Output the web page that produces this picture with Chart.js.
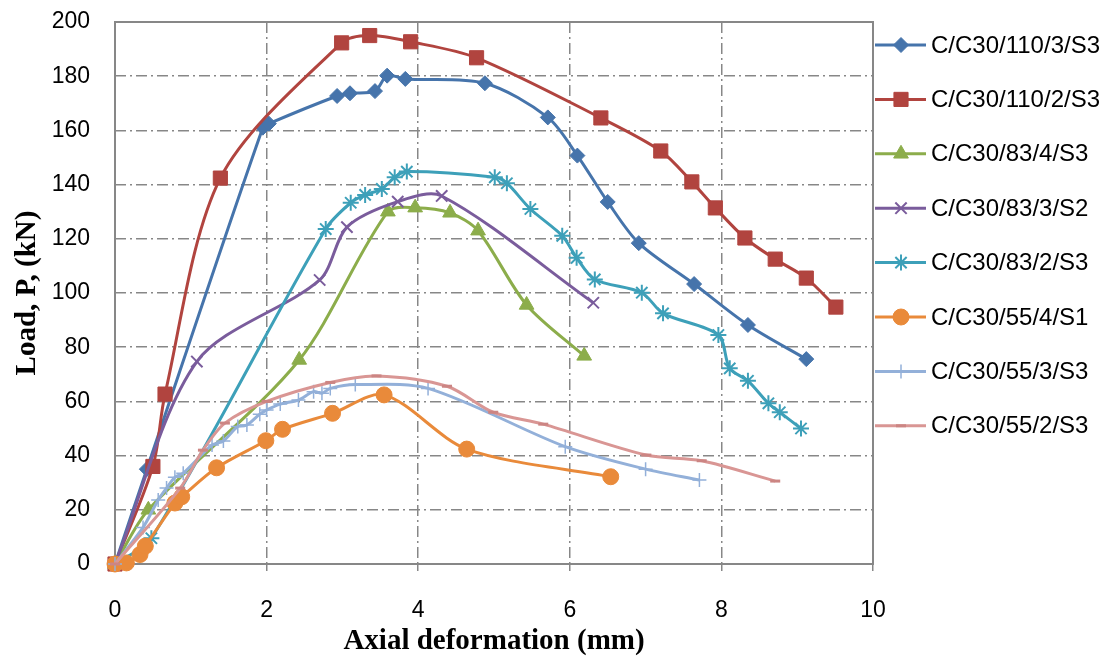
<!DOCTYPE html>
<html>
<head>
<meta charset="utf-8">
<script src="https://cdn.jsdelivr.net/npm/chart.js@4.4.0/dist/chart.umd.min.js"></script>
<style>
  html, body { margin: 0; padding: 0; background: #fff; }
  #grafico { display: block; }
</style>
</head>
<body>
<canvas id="grafico" width="1111" height="657"></canvas>
<script>
// Nomes das séries (legenda)
const nomes = [
  "C/C30/110/3/S3",
  "C/C30/110/2/S3",
  "C/C30/83/4/S3",
  "C/C30/83/3/S2",
  "C/C30/83/2/S3",
  "C/C30/55/4/S1",
  "C/C30/55/3/S3",
  "C/C30/55/2/S3"
]

// Pontos [deformação (mm), carga (kN)]
const serie110_3 = [[0, 0], [0.42, 35], [1.95, 161], [2.03, 162.5], [2.93, 172.7], [3.1, 173.7], [3.43, 174.5], [3.59, 180.2], [3.83, 179], [4.88, 177.4], [5.71, 164.8], [6.1, 150.7], [6.5, 133.6], [6.91, 118.4], [7.64, 103.3], [8.35, 88.2], [9.12, 75.6]]
const serie110_2 = [[0, 0], [0.5, 36], [0.66, 62.7], [1.39, 142.4], [2.99, 192.3], [3.36, 195], [3.9, 192.7], [4.77, 186.8], [6.41, 164.6], [7.2, 152.4], [7.61, 141], [7.92, 131.4], [8.31, 120.3], [8.71, 112.5], [9.12, 105.5], [9.51, 94.8]]
const serie83_4 = [[0, 0], [0.44, 20], [2.43, 75.3], [3.6, 130], [3.96, 131.5], [4.42, 129.6], [4.79, 123], [5.43, 95.6], [6.19, 76.8]]
const serie83_3 = [[0, 0], [1.08, 74.7], [2.7, 104.8], [3.06, 124.3], [3.73, 133.7], [4.31, 135.8], [6.31, 96.4]]
const serie83_2 = [[0, 0], [0.48, 9.5], [2.78, 123.6], [3.11, 133.3], [3.3, 136.2], [3.52, 138.4], [3.69, 142.7], [3.85, 144.8], [5.01, 142.7], [5.17, 140.5], [5.48, 131], [5.9, 121.1], [6.09, 113], [6.33, 105], [6.95, 100.1], [7.23, 92.5], [7.96, 84.5], [8.11, 72.2], [8.35, 67.6], [8.62, 59.3], [8.77, 56], [9.05, 50]]
const serie55_4 = [[0, 0], [0.15, 0.4], [0.33, 3.5], [0.4, 6.6], [0.79, 22.5], [0.88, 24.8], [1.34, 35.5], [1.99, 45.5], [2.21, 49.7], [2.87, 55.6], [3.55, 62.4], [4.64, 42.4], [6.54, 32.2]]
const serie55_3 = [[0, 0], [0.37, 13.5], [0.57, 23.6], [0.68, 28], [0.79, 32], [0.9, 33.5], [1.28, 43.9], [1.43, 45.4], [1.62, 50.7], [1.74, 51.3], [1.91, 55.3], [2.0, 56.8], [2.18, 59], [2.42, 60.5], [2.62, 63.6], [2.73, 63], [2.84, 64.8], [3.17, 66.2], [4.13, 64.8], [5.94, 43.3], [7.0, 35], [7.71, 31]]
const serie55_2 = [[0, 0], [0.86, 28], [1.16, 42], [1.45, 52], [2.0, 60], [2.84, 67], [3.45, 69.4], [4.38, 65.6], [4.99, 56], [5.65, 51.6], [7.01, 40.2], [7.74, 38.1], [8.71, 30.6]]

const dadosSeries = [serie110_3, serie110_2, serie83_4, serie83_3, serie83_2, serie55_4, serie55_3, serie55_2]

// Rótulos dos eixos
const ticksX = [0, 2, 4, 6, 8, 10]
const ticksY = [0, 20, 40, 60, 80, 100, 120, 140, 160, 180, 200]

// Estilo de cada série
const cores = ["#4674ab", "#b1443f", "#8cad4b", "#7a5c9c", "#3da0b9", "#e98a3a", "#93b0d9", "#d99694"]
const coresMarcador = ["#4674ab", "#b1443f", "#8cad4b", "#7a5c9c", "#3da0b9", "#e98a3a", "#93b0d9", "#cc8583"]
const marcadores = ["rectRot", "rect", "triangle", "crossRot", "star", "circle", "cross", "line"]
const raios = [7.5, 10, 8.5, 8, 8, 8, 7, 5]
const bordas = [1, 1, 1, 2, 2, 1, 1.5, 3]

const fonteTexto = "'Liberation Sans', Arial, sans-serif"
const fonteTitulo = "'Liberation Serif', 'Times New Roman', serif"
const corGrade = "#878787"

// Moldura da área do gráfico
const moldura = {
  id: "moldura",
  beforeDatasetsDraw(chart) {
    const { ctx, chartArea: a } = chart
    ctx.save()
    ctx.strokeStyle = corGrade
    ctx.lineWidth = 2
    ctx.setLineDash([])
    ctx.strokeRect(a.left, a.top, a.right - a.left, a.bottom - a.top)
    ctx.restore()
  }
}

// Legenda no estilo do Excel (linha + marcador)
const legenda = {
  id: "legenda",
  afterDraw(chart) {
    const { ctx, chartArea: a } = chart
    ctx.save()
    chart.data.datasets.forEach((ds, i) => {
      const y = a.top + 23 + i * 54.4
      const x0 = a.right + 2
      ctx.strokeStyle = ds.borderColor
      ctx.lineWidth = 3
      ctx.setLineDash([])
      ctx.beginPath()
      ctx.moveTo(x0, y)
      ctx.lineTo(x0 + 51, y)
      ctx.stroke()
      ctx.fillStyle = ds.pointBackgroundColor
      ctx.strokeStyle = ds.pointBorderColor
      ctx.lineWidth = ds.pointBorderWidth
      Chart.helpers.drawPoint(ctx, {
        pointStyle: ds.pointStyle,
        radius: ds.pointRadius,
        rotation: 0,
        borderWidth: ds.pointBorderWidth
      }, x0 + 26, y)
      ctx.fillStyle = "#000"
      ctx.font = "24px " + fonteTexto
      ctx.textAlign = "left"
      ctx.textBaseline = "middle"
      ctx.fillText(ds.label, x0 + 56, y + 1)
    })
    ctx.restore()
  }
}

const datasets = nomes.map((nome, i) => ({
  label: nome,
  data: dadosSeries[i].map(([x, y]) => ({ x, y })),
  borderColor: cores[i],
  backgroundColor: cores[i],
  borderWidth: 3,
  pointStyle: marcadores[i],
  pointRadius: raios[i],
  pointHoverRadius: raios[i],
  pointBorderWidth: bordas[i],
  pointBackgroundColor: coresMarcador[i],
  pointBorderColor: coresMarcador[i],
  showLine: true,
  tension: 0.3,
  fill: false,
  clip: false,
  order: nomes.length - i
}))

const ctxGrafico = document.getElementById("grafico").getContext("2d")

new Chart(ctxGrafico, {
  type: "scatter",
  data: { datasets },
  options: {
    responsive: false,
    animation: false,
    devicePixelRatio: 1,
    layout: { padding: { top: 22, right: 238, bottom: 0, left: 0 } },
    plugins: {
      legend: { display: false },
      tooltip: { enabled: false }
    },
    scales: {
      x: {
        type: "linear",
        min: 0,
        max: 10,
        afterBuildTicks: s => { s.ticks = ticksX.map(v => ({ value: v })) },
        afterFit: s => { s.height = 93 },
        ticks: {
          color: "#000",
          font: { family: fonteTexto, size: 23 },
          padding: 26,
          maxRotation: 0
        },
        grid: {
          color: corGrade,
          lineWidth: 1.5,
          drawTicks: true,
          tickLength: 7,
          tickColor: corGrade,
          tickWidth: 1.5
        },
        border: { display: false, dash: [11, 4, 2, 4] },
        title: {
          display: true,
          text: "Axial deformation (mm)",
          color: "#000",
          font: { family: fonteTitulo, size: 29, weight: "bold" },
          padding: { top: 0, bottom: -2 }
        }
      },
      y: {
        type: "linear",
        min: 0,
        max: 200,
        afterBuildTicks: s => { s.ticks = ticksY.map(v => ({ value: v })) },
        afterFit: s => {
          s.width = 115
          s.paddingTop = 0
          s.paddingBottom = 0
        },
        ticks: {
          color: "#000",
          font: { family: fonteTexto, size: 23 },
          padding: 25
        },
        grid: {
          color: corGrade,
          lineWidth: 1.5,
          drawTicks: false
        },
        border: { display: false, dash: [11, 4, 2, 4] },
        title: {
          display: true,
          text: "Load, P, (kN)",
          color: "#000",
          font: { family: fonteTitulo, size: 29, weight: "bold" },
          padding: { top: 10, bottom: 0 }
        }
      }
    }
  },
  plugins: [moldura, legenda]
})
</script>
</body>
</html>
